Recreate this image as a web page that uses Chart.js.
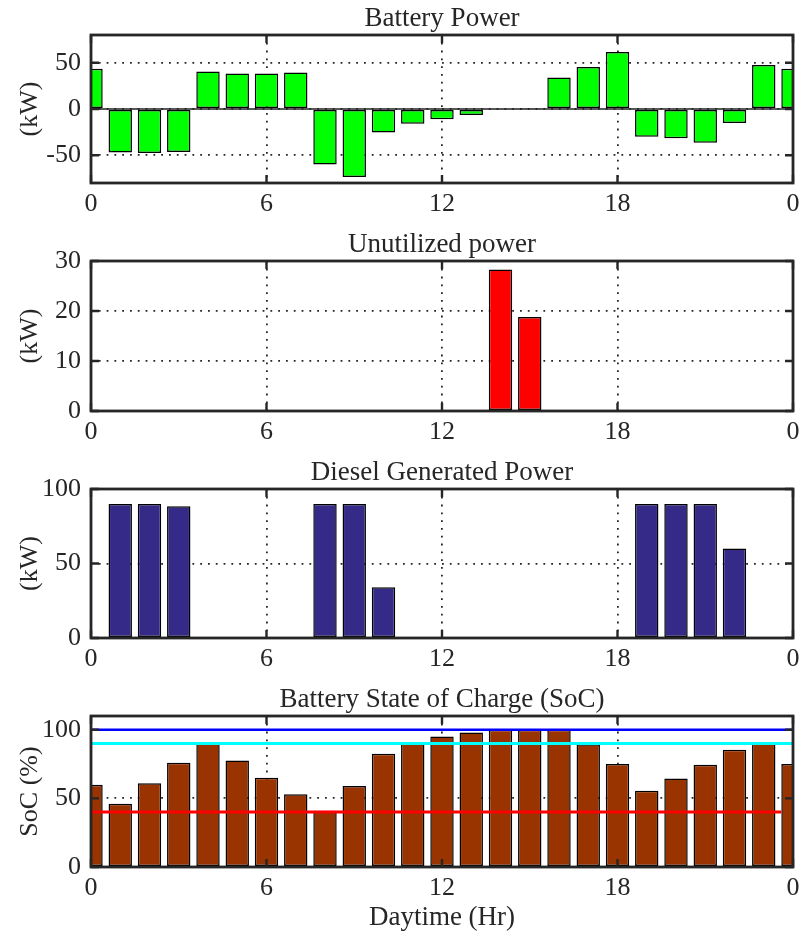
<!DOCTYPE html>
<html>
<head>
<meta charset="utf-8">
<title>Microgrid daily power balance</title>
<script src="https://cdn.jsdelivr.net/npm/chart.js@4.4.1/dist/chart.umd.min.js"></script>
<style>
  html, body { margin: 0; padding: 0; background: #ffffff; }
  body { width: 802px; height: 942px; position: relative; overflow: hidden; }
  canvas { position: absolute; left: 0; }
</style>
</head>
<body>
<canvas id="battery"></canvas>
<canvas id="unutilized"></canvas>
<canvas id="diesel"></canvas>
<canvas id="soc"></canvas>
<script>
// Hour of day for each bar (24 wraps round to midnight)
const hours = [0, 1, 2, 3, 4, 5, 6, 7, 8, 9, 10, 11, 12, 13, 14, 15, 16, 17, 18, 19, 20, 21, 22, 23, 24];

// Shared x-axis ticks
const hourTicks = [0, 6, 12, 18, 24];
const hourTickLabels = ['0', '6', '12', '18', '0'];

// Battery power (kW): positive = charging, negative = discharging
const batteryPower = [43.5, -47, -47.5, -46.5, 40.5, 38.5, 38.5, 39.5, -60, -73.5, -25.5, -16, -11, -6.5,
                      0, 0.8, 34, 45.5, 61.5, -30, -31.5, -36.5, -15, 47.5, 43.5];
const batteryTicks = [-50, 0, 50];

// Surplus power that could not be used (kW)
const unutilizedPower = [0, 0, 0, 0, 0, 0, 0, 0, 0, 0, 0, 0, 0, 0,
                         28.3, 18.8, 0, 0, 0, 0, 0, 0, 0, 0, 0];
const unutilizedTicks = [0, 10, 20, 30];

// Diesel generator output (kW)
const dieselPower = [0, 90, 90, 88.5, 0, 0, 0, 0, 90, 90, 34, 0, 0, 0,
                     0, 0, 0, 0, 0, 90, 90, 90, 60, 0, 0];
const dieselTicks = [0, 50, 100];

// Battery state of charge (%)
const batterySoC = [60, 46, 61, 76, 90, 77.5, 65, 53, 41, 59, 82.5, 90, 95, 98,
                    100, 100, 100, 89.5, 75, 55.5, 64.5, 74.5, 85.5, 90, 75];
const socTicks = [0, 50, 100];

// SoC limits drawn as horizontal reference lines: [hour, percent]
const socMaxLine = [[0, 100], [24, 100]];
const socHighLine = [[0, 90], [24, 90]];
const socMinLine = [[0, 40], [23.6, 40]];

const FONT = "'Liberation Serif', 'DejaVu Serif', serif";
const INK = '#262626';
const TITLE_LINE = 31;
const TITLE_PAD = 1;
const TITLE_BOX = TITLE_LINE + TITLE_PAD;

// Axes box, inward tick marks and (optionally) the zero baseline
const axesFrame = {
  id: 'axesFrame',
  beforeDatasetsDraw(chart, args, opts) {
    if (!opts.baseline) return;
    const { ctx, chartArea: a, scales: { y } } = chart;
    const py = y.getPixelForValue(0);
    ctx.save();
    ctx.strokeStyle = '#222222';
    ctx.lineWidth = 1.4;
    ctx.beginPath();
    ctx.moveTo(a.left, py);
    ctx.lineTo(a.right, py);
    ctx.stroke();
    ctx.restore();
  },
  afterDatasetsDraw(chart) {
    const { ctx, chartArea: a, scales: { x, y } } = chart;
    const len = 8;
    ctx.save();
    ctx.strokeStyle = INK;
    ctx.lineWidth = 2.4;
    ctx.beginPath();
    x.ticks.forEach(t => {
      const px = x.getPixelForValue(t.value);
      ctx.moveTo(px, a.top); ctx.lineTo(px, a.top + len);
      ctx.moveTo(px, a.bottom); ctx.lineTo(px, a.bottom - len);
    });
    y.ticks.forEach(t => {
      const py = y.getPixelForValue(t.value);
      ctx.moveTo(a.left, py); ctx.lineTo(a.left + len, py);
      ctx.moveTo(a.right, py); ctx.lineTo(a.right - len, py);
    });
    ctx.stroke();
    ctx.lineWidth = 2.8;
    ctx.strokeRect(a.left, a.top, a.right - a.left, a.bottom - a.top);
    ctx.restore();
  }
};

function barSet(values, color) {
  return {
    type: 'bar',
    data: hours.map((h, i) => ({ x: h, y: values[i] })),
    backgroundColor: color,
    borderColor: '#000000',
    borderWidth: 1.5,
    borderSkipped: false,
    barPercentage: 0.8,
    categoryPercentage: 1,
    clip: 0,
    order: 1
  };
}

function refLine(points, color, width) {
  return {
    type: 'line',
    data: points.map(([x, y]) => ({ x, y })),
    borderColor: color,
    borderWidth: width,
    pointRadius: 0,
    tension: 0,
    clip: 0,
    order: 0
  };
}

function panel(id, p) {
  const canvas = document.getElementById(id);
  const axisH = p.xTitle ? 70 : 40;
  canvas.width = 802;
  canvas.height = TITLE_BOX + (p.bottom - p.top) + axisH;
  canvas.style.top = (p.top - TITLE_BOX) + 'px';

  return new Chart(canvas, {
    type: 'bar',
    data: { datasets: p.datasets },
    plugins: [axesFrame],
    options: {
      responsive: false,
      animation: false,
      devicePixelRatio: 1,
      events: [],
      layout: { padding: { left: 0, right: 9, top: 0, bottom: 0 } },
      plugins: {
        legend: { display: false },
        tooltip: { enabled: false },
        title: {
          display: true,
          text: p.title,
          fullSize: false,
          color: INK,
          font: { family: FONT, size: 27, weight: 'normal', lineHeight: TITLE_LINE + 'px' },
          padding: { top: 0, bottom: TITLE_PAD }
        },
        axesFrame: { baseline: !!p.baseline }
      },
      scales: {
        x: {
          type: 'linear',
          min: 0,
          max: 24,
          offset: false,
          afterBuildTicks: s => { s.ticks = hourTicks.map(v => ({ value: v })); },
          afterFit: s => { s.height = axisH; s.paddingLeft = 0; s.paddingRight = 0; },
          ticks: {
            autoSkip: false,
            maxRotation: 0,
            padding: 6,
            color: INK,
            font: { family: FONT, size: 26, lineHeight: 1.2 },
            callback: (v) => hourTickLabels[hourTicks.indexOf(v)]
          },
          grid: { offset: false, drawTicks: false, color: INK, lineWidth: 1.8 },
          border: { display: false, dash: [1.8, 6] },
          title: p.xTitle ? {
            display: true,
            text: p.xTitle,
            color: INK,
            font: { family: FONT, size: 27, lineHeight: 1.2 },
            padding: { top: 0, bottom: 3 }
          } : { display: false }
        },
        y: {
          type: 'linear',
          min: p.yMin,
          max: p.yMax,
          afterBuildTicks: s => { s.ticks = p.yTicks.map(v => ({ value: v })); },
          afterFit: s => { s.width = 91; s.paddingTop = 0; s.paddingBottom = 0; },
          ticks: {
            padding: 10,
            color: INK,
            font: { family: FONT, size: 26, lineHeight: 1.2 }
          },
          grid: { drawTicks: false, color: INK, lineWidth: 1.8 },
          border: { display: false, dash: [1.8, 6] },
          title: {
            display: true,
            text: p.yTitle,
            color: INK,
            font: { family: FONT, size: 26, lineHeight: 1.2 },
            padding: { top: 15, bottom: 0 }
          }
        }
      }
    }
  });
}

panel('battery', {
  top: 35, bottom: 183, title: 'Battery Power', yTitle: '(kW)',
  yMin: -80, yMax: 80, yTicks: batteryTicks, baseline: true,
  datasets: [barSet(batteryPower, '#00ff00')]
});

panel('unutilized', {
  top: 261, bottom: 411, title: 'Unutilized power', yTitle: '(kW)',
  yMin: 0, yMax: 30, yTicks: unutilizedTicks,
  datasets: [barSet(unutilizedPower, '#ff0000')]
});

panel('diesel', {
  top: 489, bottom: 638, title: 'Diesel Generated Power', yTitle: '(kW)',
  yMin: 0, yMax: 100, yTicks: dieselTicks,
  datasets: [barSet(dieselPower, '#352a87')]
});

panel('soc', {
  top: 716, bottom: 867, title: 'Battery State of Charge (SoC)', yTitle: 'SoC (%)',
  xTitle: 'Daytime (Hr)', yMin: 0, yMax: 110, yTicks: socTicks,
  datasets: [
    refLine(socMaxLine, '#0000ff', 2.6),
    refLine(socHighLine, '#00ffff', 3),
    refLine(socMinLine, '#ff0000', 3),
    barSet(batterySoC, '#993300')
  ]
});
</script>
</body>
</html>
